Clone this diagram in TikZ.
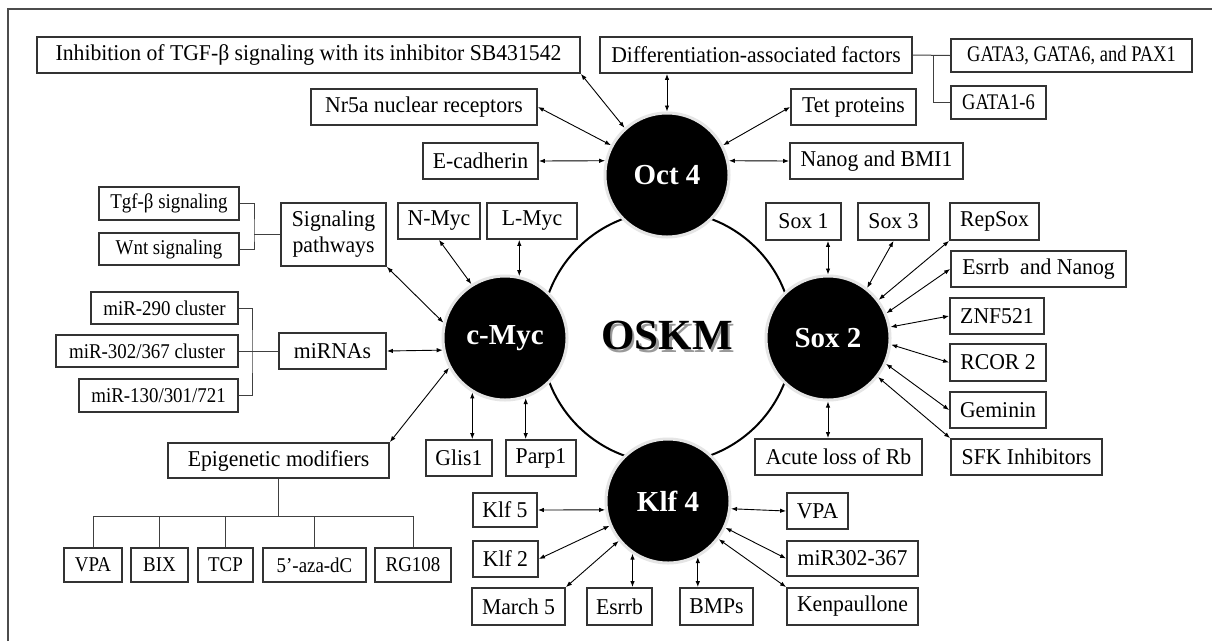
\documentclass[tikz,border=0pt]{standalone}
\usepackage{fontspec}
\setmainfont{Liberation Serif}
\newfontfamily\mainnarrow[FakeStretch=0.96]{Liberation Serif}
\newfontfamily\smallnarrow[FakeStretch=0.9]{Liberation Serif}
\newfontfamily\gatanarrow[FakeStretch=0.83]{Liberation Serif}
\usetikzlibrary{arrows.meta}
\tikzset{
  bx/.style={draw=black!80, line width=1.8pt, inner sep=0pt, minimum height=36pt,
    font=\mainnarrow\fontsize{22.6}{26}\selectfont, align=center, fill=white},
  sbx/.style={bx, font=\smallnarrow\fontsize{21}{24}\selectfont},
  gbx/.style={bx, font=\gatanarrow\fontsize{22.3}{24}\selectfont},
  hub/.style={circle, fill=black, draw=black!10, line width=3pt, minimum size=124pt,
    inner sep=0pt, text=white, font=\fontsize{29}{32}\selectfont\bfseries},
  con/.style={line width=0.9pt, {Latex[length=6pt,width=4.5pt]}-{Latex[length=6pt,width=4.5pt]}},
  brk/.style={line width=1pt, draw=black!75},
}
\begin{document}
\begin{tikzpicture}[x=1pt, y=-1pt]
\useasboundingbox (0,0) rectangle (1212,641);
\fill[white] (0,0) rectangle (1212,641);
% frame
\draw[line width=2.5pt, black!70] (8,641) -- (8,9) -- (1212,9);

% ring
\draw[line width=2pt] (667,337) circle[radius=126];

% hubs
\node[hub] (oct) at (667,175) {Oct 4};
\node[hub] (cmyc) at (505,338) {c-Myc};
\node[hub] (sox) at (828,338) {Sox 2};
\node[hub] (klf) at (668,501) {Klf 4};

% OSKM
\node[font=\fontsize{43}{46}\selectfont\bfseries, text=black] (oskm) at (667,337)
  {\makebox[0pt][l]{\hspace{2.5pt}\raisebox{-3pt}{\textcolor{black!40}{OSKM}}}OSKM};

% Oct 4 group
\node[bx, minimum width=543pt] (inh) at (308.5,55) {Inhibition of TGF-β signaling with its inhibitor SB431542};
\node[bx, minimum width=312pt] (diff) at (756,55) {Differentiation-associated factors};
\node[gbx, minimum width=241pt, minimum height=33pt] (gata3) at (1071.5,55.5) {GATA3, GATA6, and PAX1};
\node[gbx, minimum width=95pt, minimum height=33pt] (gata16) at (998.5,102.5) {GATA1-6};
\node[bx, minimum width=226pt] (nr5a) at (424,107) {Nr5a nuclear receptors};
\node[bx, minimum width=125pt] (tet) at (853.5,107) {Tet proteins};
\node[bx, minimum width=115pt] (ecad) at (480.5,161) {E-cadherin};
\node[bx, minimum width=173pt] (nanog) at (876.5,161) {Nanog and BMI1};

\coordinate (dj) at (933,55);
\draw[brk] (diff.east) -- (gata3.west);
\draw[brk] (dj) |- (gata16.west);

\draw[con] (inh.south east) -- (oct.132);
\draw[con] (nr5a.east) -- (oct.152);
\draw[con] (ecad.east) -- (oct.167);
\draw[con] (oct.north |- diff.south) -- (oct.north);
\draw[con] (tet.west) -- (oct.28);
\draw[con] (nanog.west) -- (oct.13);

% c-Myc group
\node[sbx, minimum width=140pt, minimum height=33pt] (tgf) at (169,203.5) {Tgf-β signaling};
\node[sbx, minimum width=140pt, minimum height=32pt] (wnt) at (169,249) {Wnt signaling};
\node[bx, minimum width=105pt, minimum height=63pt] (sigp) at (333.5,234.5) {Signaling\\pathways};
\node[bx, minimum width=82pt] (nmyc) at (439,221) {N-Myc};
\node[bx, minimum width=90pt] (lmyc) at (532,221) {L-Myc};
\node[sbx, minimum width=147pt, minimum height=32pt] (mir290) at (164.5,308) {miR-290 cluster};
\node[sbx, minimum width=182pt, minimum height=32pt] (mir302) at (147,351) {miR-302/367 cluster};
\node[sbx, minimum width=159pt, minimum height=33pt] (mir130) at (158.5,395.5) {miR-130/301/721};
\node[bx, minimum width=107pt] (mirnas) at (332.5,351) {miRNAs};
\node[bx, minimum width=221pt, minimum height=35pt] (epi) at (278.5,460.5) {Epigenetic modifiers};
\node[sbx, minimum width=58pt, minimum height=34pt] (vpa1) at (93,565) {VPA};
\node[sbx, minimum width=57pt, minimum height=34pt] (bix) at (159.5,565) {BIX};
\node[sbx, minimum width=55pt, minimum height=34pt] (tcp) at (225.5,565) {TCP};
\node[sbx, minimum width=103pt, minimum height=34pt] (aza) at (314.5,565) {5’-aza-dC};
\node[sbx, minimum width=76pt, minimum height=34pt] (rg108) at (413,565) {RG108};
\node[bx, minimum width=66pt] (glis1) at (459,458) {Glis1};
\node[bx, minimum width=70pt] (parp1) at (541,458) {Parp1};

\coordinate (sj) at (254,234.5);
\draw[brk] (tgf.east) -| (sj) |- (wnt.east);
\draw[brk] (sj) -- (sigp.west);
\coordinate (mj) at (252,351);
\draw[brk] (mir290.east) -| (mj) |- (mir130.east);
\draw[brk] (mir302.east) -- (mirnas.west);
\coordinate (ej) at (278.5,516);
\draw[brk] (epi.south) -- (ej);
\draw[brk] (vpa1.north) -- (vpa1.north |- ej) -- (rg108.north |- ej) -- (rg108.north);
\draw[brk] (bix.north) -- (bix.north |- ej);
\draw[brk] (tcp.north) -- (tcp.north |- ej);
\draw[brk] (aza.north) -- (aza.north |- ej);

\draw[con] (sigp.south east) -- (cmyc.166);
\draw[con] (nmyc.south) -- (cmyc.122);
\draw[con] (cmyc.77 |- lmyc.south) -- (cmyc.77);
\draw[con] (mirnas.east) -- (cmyc.191);
\draw[con] (epi.north east) -- (cmyc.208);
\draw[con] (cmyc.239) -- (cmyc.239 |- glis1.north);
\draw[con] (cmyc.289) -- (cmyc.289 |- parp1.north);

% Sox 2 group
\node[bx, minimum width=75pt, minimum height=37pt] (sox1) at (803.5,221.5) {Sox 1};
\node[bx, minimum width=71pt, minimum height=37pt] (sox3) at (893.5,221.5) {Sox 3};
\node[bx, minimum width=89pt, minimum height=37pt] (repsox) at (994.5,221.5) {RepSox};
\node[bx, minimum width=175pt] (esrrbn) at (1038.5,269) {Esrrb\ \ and Nanog};
\node[bx, minimum width=94pt] (znf) at (997,316) {ZNF521};
\node[bx, minimum width=96pt, minimum height=37pt] (rcor) at (998,362.5) {RCOR 2};
\node[bx, minimum width=96pt] (gem) at (998,410) {Geminin};
\node[bx, minimum width=151pt] (sfk) at (1026.5,457) {SFK Inhibitors};
\node[bx, minimum width=167pt] (rb) at (838.5,457) {Acute loss of Rb};

\draw[con] (sox.north |- sox1.south) -- (sox.north);
\draw[con] (sox3.south) -- (sox.52);
\draw[con] (repsox.south west) -- (sox.37);
\draw[con] (esrrbn.west) -- (sox.23);
\draw[con] (znf.west) -- (sox.10);
\draw[con] (rcor.west) -- (sox.354);
\draw[con] (gem.west) -- (sox.336);
\draw[con] (sfk.north west) -- (sox.322);
\draw[con] (sox.south) -- (sox.south |- rb.north);

% Klf 4 group
\node[bx, minimum width=64pt, minimum height=34pt] (klf5) at (505,510) {Klf 5};
\node[bx, minimum width=65pt] (klf2) at (505.5,559) {Klf 2};
\node[bx, minimum width=93pt, minimum height=37pt] (march5) at (518.5,606.5) {March 5};
\node[bx, minimum width=65pt, minimum height=37pt] (esrrb) at (619.5,606.5) {Esrrb};
\node[bx, minimum width=73pt, minimum height=37pt] (bmps) at (716.5,606.5) {BMPs};
\node[bx, minimum width=131pt, minimum height=37pt] (kenp) at (852.5,606.5) {Kenpaullone};
\node[bx, minimum width=61pt] (vpa2) at (817.5,511) {VPA};
\node[bx, minimum width=131pt, minimum height=35pt] (mir367) at (852.5,558.5) {miR302-367};

\draw[con] (klf5.east) -- (klf.188);
\draw[con] (klf2.east) -- (klf.203);
\draw[con] (march5.north east) -- (klf.219);
\draw[con] (klf.236) -- (klf.236 |- esrrb.north);
\draw[con] (klf.298) -- (klf.298 |- bmps.north);
\draw[con] (kenp.north west) -- (klf.323);
\draw[con] (mir367.west) -- (klf.335);
\draw[con] (vpa2.west) -- (klf.353);
\end{tikzpicture}
\end{document}
